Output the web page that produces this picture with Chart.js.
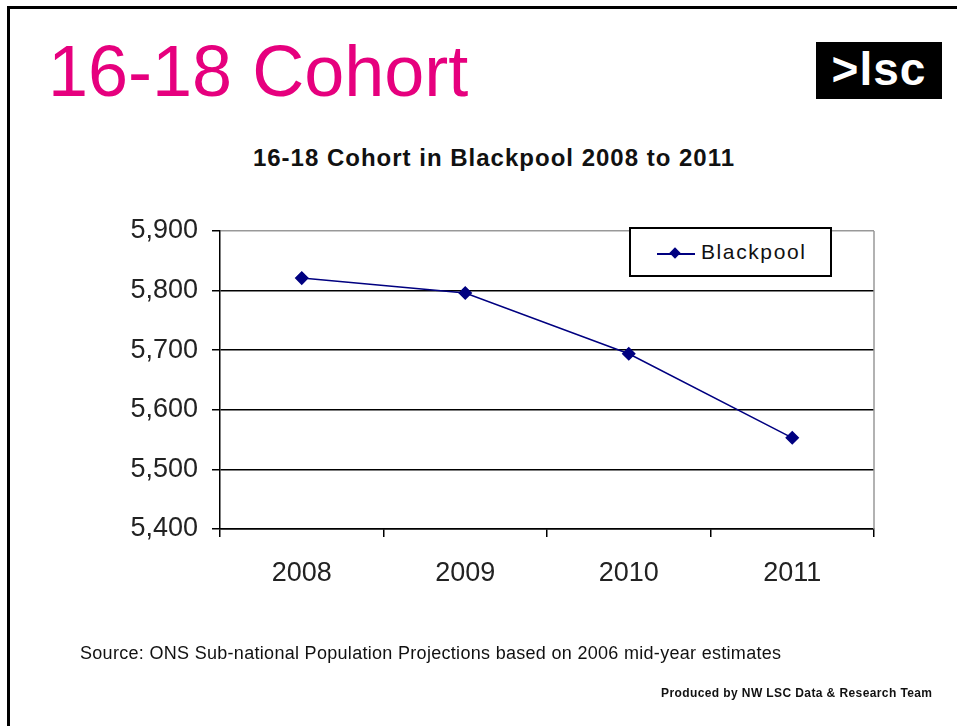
<!DOCTYPE html>
<html>
<head>
<meta charset="utf-8">
<script src="https://cdn.jsdelivr.net/npm/chart.js@4.4.1/dist/chart.umd.min.js"></script>
<style>
  html, body { margin: 0; padding: 0; background: #fff; }
  body { width: 957px; height: 726px; position: relative; overflow: hidden; font-family: "Liberation Sans", Arial, sans-serif; }
  #frame { position: absolute; left: 7px; top: 6px; width: 960px; height: 730px; border-top: 3px solid #000; border-left: 3px solid #000; }
  #heading { position: absolute; left: 48px; top: 30px; font-size: 72px; color: #E6007E; white-space: nowrap; }
  #logo { position: absolute; left: 816px; top: 42px; width: 126px; height: 57px; background: #000; color: #fff;
          font-weight: bold; font-size: 46px; line-height: 54px; text-align: center; letter-spacing: 1px; }
  #chartTitle { position: absolute; left: 0; width: 988px; top: 144px; text-align: center; font-weight: bold; font-size: 24px; color: #111; letter-spacing: 1px; }
  #chart { position: absolute; left: 0; top: 0; }
  #legend { position: absolute; left: 629px; top: 227px; width: 199px; height: 46px; border: 2px solid #000; background: #fff; }
  #legend .line { position: absolute; left: 26px; top: 24px; width: 38px; height: 2px; background: #000080; }
  #legend .mark { position: absolute; left: 40px; top: 20px; width: 8px; height: 8px; background: #000080; transform: rotate(45deg); }
  #legend .txt { position: absolute; left: 70px; top: 11px; font-size: 21px; color: #111; letter-spacing: 1.6px; }
  #source { position: absolute; left: 80px; top: 643px; font-size: 18px; color: #111; white-space: nowrap; letter-spacing: 0.3px; }
  #produced { position: absolute; left: 661px; top: 686px; font-size: 12px; font-weight: bold; color: #111; white-space: nowrap; letter-spacing: 0.4px; }
</style>
</head>
<body>
<div id="frame"></div>
<div id="heading">16-18 Cohort</div>
<div id="logo">&gt;lsc</div>
<div id="chartTitle">16-18 Cohort in Blackpool 2008 to 2011</div>
<canvas id="chart" width="957" height="726"></canvas>
<div id="legend"><div class="line"></div><div class="mark"></div><div class="txt"></div></div>
<div id="source">Source: ONS Sub-national Population Projections based on 2006 mid-year estimates</div>
<div id="produced">Produced by NW LSC Data &amp; Research Team</div>
<script>
// ---- Data ----
const years = ['2008', '2009', '2010', '2011'];
const seriesName = 'Blackpool';
const cohort = [5821, 5796, 5694, 5553];
const yMin = 5400, yMax = 5900, yStep = 100;

const FONT = '"Liberation Sans", Arial, sans-serif';

document.querySelector('#legend .txt').textContent = seriesName;

// right edge of plot area is a thin grey line
const plotBorder = {
    id: 'plotBorder',
    beforeDatasetsDraw(chart) {
        const { ctx, chartArea: a } = chart;
        ctx.save();
        ctx.strokeStyle = '#999';
        ctx.lineWidth = 1.5;
        ctx.beginPath();
        ctx.moveTo(a.right, a.top);
        ctx.lineTo(a.right, a.bottom);
        ctx.stroke();
        ctx.restore();
    }
};

new Chart(document.getElementById('chart'), {
    type: 'line',
    data: {
        labels: years,
        datasets: [{
            label: seriesName,
            data: cohort,
            borderColor: '#000080',
            backgroundColor: '#000080',
            borderWidth: 1.5,
            pointStyle: 'rectRot',
            pointRadius: 6,
            pointBackgroundColor: '#000080',
            pointBorderColor: '#000080',
            tension: 0
        }]
    },
    options: {
        responsive: false,
        animation: false,
        layout: { padding: { left: 120, right: 83, top: 231, bottom: 137 } },
        plugins: {
            legend: { display: false },
            tooltip: { enabled: false }
        },
        scales: {
            x: {
                offset: true,
                ticks: { font: { family: FONT, size: 27 }, color: '#222', padding: 20 },
                grid: { offset: true, drawOnChartArea: false, tickLength: 8, color: '#000', lineWidth: 1.5 },
                border: { color: '#000', width: 1.5 },
                afterFit(s) { s.height = 60; }
            },
            y: {
                min: yMin,
                max: yMax,
                ticks: {
                    stepSize: yStep,
                    font: { family: FONT, size: 27 },
                    color: '#222',
                    padding: 14,
                    callback: v => v.toLocaleString('en-US')
                },
                grid: {
                    color: c => (c.tick && c.tick.value === yMax) ? '#999' : '#000',
                    tickColor: '#000',
                    lineWidth: 1.5,
                    tickLength: 8
                },
                border: { color: '#000', width: 1.5 },
                afterFit(s) { s.width = 100; }
            }
        }
    },
    plugins: [plotBorder]
});
</script>
</body>
</html>
